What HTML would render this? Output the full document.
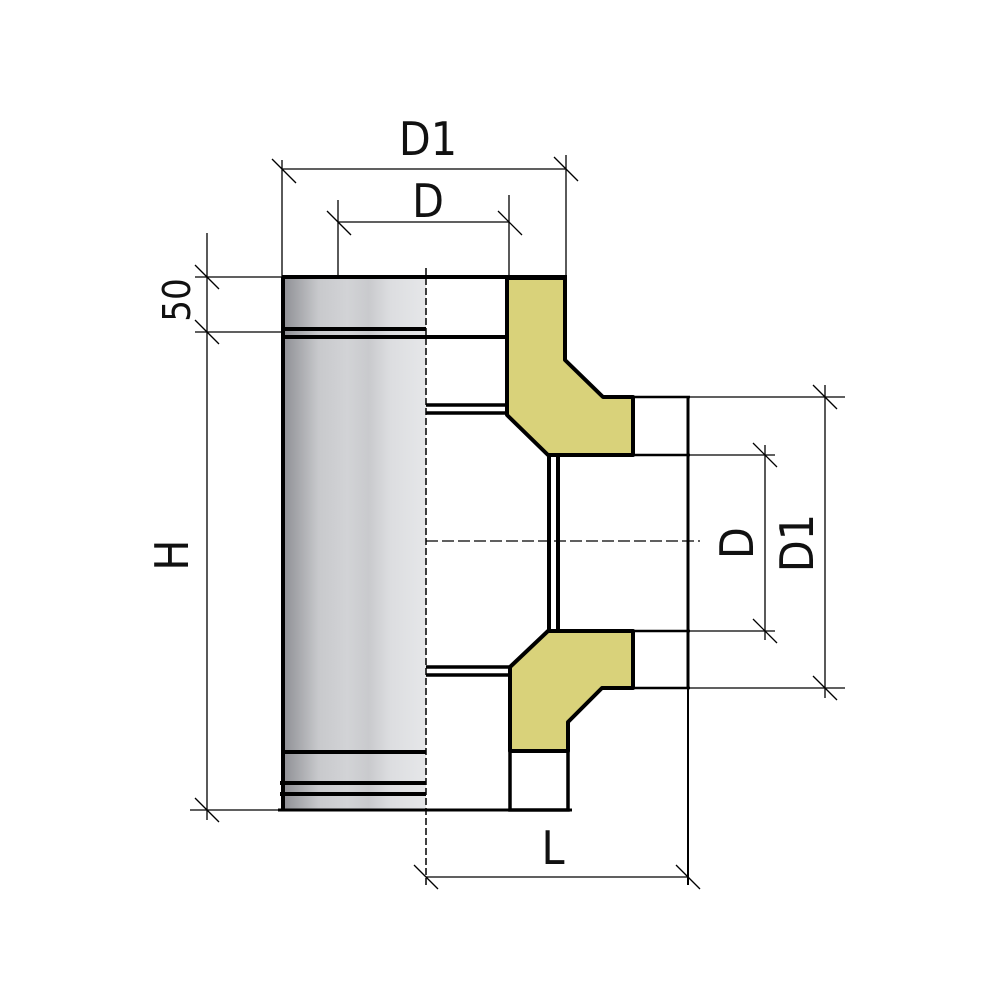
<!DOCTYPE html>
<html><head><style>html,body{margin:0;padding:0;background:#fff}svg{display:block}</style></head><body>
<svg width="1000" height="1000" viewBox="0 0 1000 1000" xmlns="http://www.w3.org/2000/svg">
<defs>
<linearGradient id="g" x1="0" x2="1" y1="0" y2="0">
<stop offset="0" stop-color="#8e8f94"/><stop offset="0.25" stop-color="#c8c9cc"/><stop offset="0.45" stop-color="#d2d3d6"/><stop offset="0.6" stop-color="#c9cacd"/><stop offset="0.75" stop-color="#dcdde0"/><stop offset="1" stop-color="#e6e7e9"/>
</linearGradient>
</defs>
<!-- pipe -->
<rect x="283" y="278" width="143" height="532" fill="url(#g)"/>
<g stroke="#000" fill="none">
<line x1="283" y1="277" x2="283" y2="810" stroke-width="4"/>
<line x1="282" y1="277" x2="567" y2="277" stroke-width="4"/>
<line x1="282" y1="329" x2="426" y2="329" stroke-width="4"/>
<line x1="282" y1="337" x2="506" y2="337" stroke-width="4"/>
<line x1="282" y1="752" x2="426" y2="752" stroke-width="4"/>
<line x1="280" y1="783" x2="426" y2="783" stroke-width="4"/>
<line x1="280" y1="794" x2="426" y2="794" stroke-width="4"/>
<line x1="278" y1="810" x2="572" y2="810" stroke-width="3"/>
<line x1="426" y1="268" x2="426" y2="885" stroke-width="1.5" stroke-dasharray="7,3"/>
<line x1="426" y1="541" x2="700" y2="541" stroke-width="1.2" stroke-dasharray="12,4"/>
<line x1="426" y1="405" x2="507" y2="405" stroke-width="3.5"/>
<line x1="426" y1="413" x2="507" y2="413" stroke-width="3.5"/>
<line x1="426" y1="667" x2="510" y2="667" stroke-width="3.5"/>
<line x1="426" y1="675" x2="510" y2="675" stroke-width="3.5"/>
</g>
<!-- yellow -->
<path d="M507 278 L565 278 L565 360 L603 397 L633 397 L633 455 L548 455 L507 415 Z" fill="#d9d27a" stroke="#000" stroke-width="4" stroke-linejoin="round"/>
<path d="M548 631 L633 631 L633 688 L602 688 L568 722 L568 751 L510 751 L510 667 Z" fill="#d9d27a" stroke="#000" stroke-width="4" stroke-linejoin="round"/>
<g stroke="#000" fill="none">
<rect x="510" y="751" width="58" height="59" stroke-width="3.5"/>
<line x1="549" y1="455" x2="549" y2="631" stroke-width="4"/>
<line x1="558" y1="455" x2="558" y2="631" stroke-width="4"/>
<line x1="633" y1="397" x2="690" y2="397" stroke-width="2.5"/>
<line x1="633" y1="455" x2="690" y2="455" stroke-width="2.5"/>
<line x1="633" y1="631" x2="690" y2="631" stroke-width="2.5"/>
<line x1="633" y1="688" x2="690" y2="688" stroke-width="2.5"/>
<line x1="688" y1="397" x2="688" y2="885" stroke-width="2"/>
<line x1="688" y1="397" x2="688" y2="688" stroke-width="3"/>
<!-- dims -->
<g stroke-width="1.3">
<line x1="282" y1="160" x2="282" y2="277"/><line x1="566" y1="155" x2="566" y2="277"/>
<line x1="282" y1="169" x2="566" y2="169"/>
<line x1="272" y1="159" x2="296" y2="183"/><line x1="554" y1="157" x2="578" y2="181"/>
<line x1="338" y1="200" x2="338" y2="277"/><line x1="509" y1="195" x2="509" y2="277"/>
<line x1="338" y1="222" x2="509" y2="222"/>
<line x1="327" y1="211" x2="351" y2="235"/><line x1="498" y1="211" x2="522" y2="235"/>
<line x1="207" y1="233" x2="207" y2="820"/>
<line x1="195" y1="277" x2="282" y2="277"/><line x1="195" y1="332" x2="282" y2="332"/><line x1="190" y1="810" x2="282" y2="810"/>
<line x1="195" y1="265" x2="219" y2="289"/><line x1="195" y1="320" x2="219" y2="344"/><line x1="195" y1="798" x2="219" y2="822"/>
<line x1="690" y1="455" x2="775" y2="455"/><line x1="690" y1="631" x2="775" y2="631"/>
<line x1="765" y1="445" x2="765" y2="640"/>
<line x1="753" y1="443" x2="777" y2="467"/><line x1="753" y1="619" x2="777" y2="643"/>
<line x1="690" y1="397" x2="845" y2="397"/><line x1="690" y1="688" x2="845" y2="688"/>
<line x1="825" y1="385" x2="825" y2="698"/>
<line x1="813" y1="385" x2="837" y2="409"/><line x1="813" y1="676" x2="837" y2="700"/>
<line x1="426" y1="877" x2="688" y2="877"/>
<line x1="414" y1="865" x2="438" y2="889"/><line x1="676" y1="865" x2="700" y2="889"/>
</g>
</g>
<g font-family="'DejaVu Sans Condensed','DejaVu Sans','Liberation Sans',sans-serif" fill="#111" font-size="46">
<text x="428" y="155" text-anchor="middle">D1</text>
<text x="428" y="217" text-anchor="middle">D</text>
<text x="553" y="864" text-anchor="middle">L</text>
<text transform="translate(188,555) rotate(-90)" text-anchor="middle">H</text>
<text transform="translate(190,300) rotate(-90)" text-anchor="middle" font-size="38">50</text>
<text transform="translate(753,543) rotate(-90)" text-anchor="middle">D</text>
<text transform="translate(813,543) rotate(-90)" text-anchor="middle">D1</text>
</g>
</svg>
</body></html>
